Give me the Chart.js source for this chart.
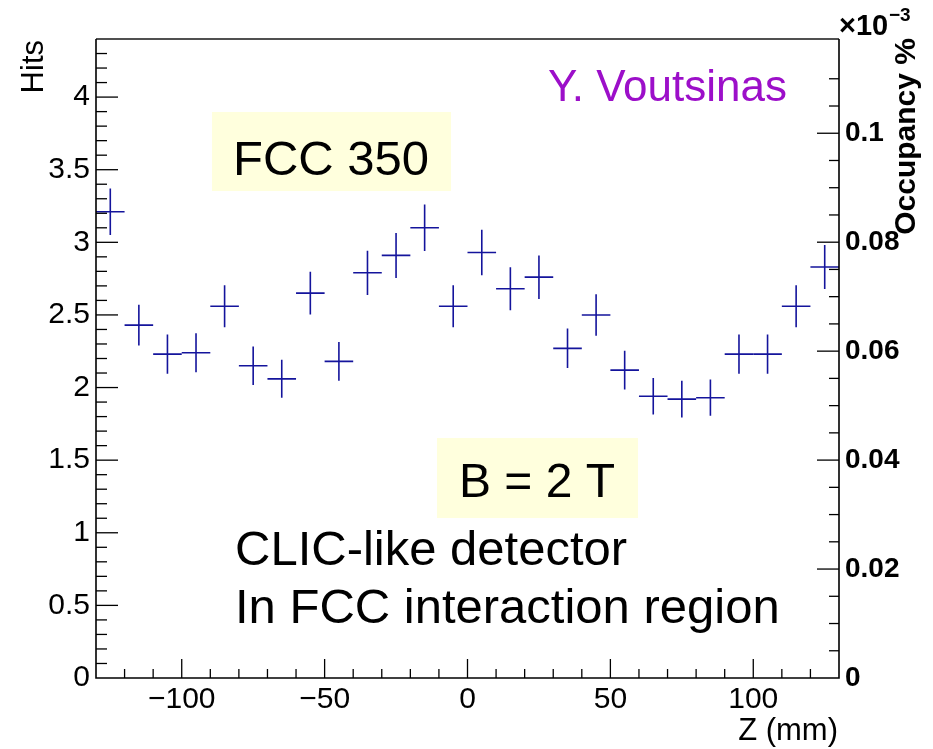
<!DOCTYPE html>
<html>
<head>
<meta charset="utf-8">
<script src="https://cdn.jsdelivr.net/npm/chart.js@4/dist/chart.umd.min.js"></script>
<style>
  html, body { margin: 0; padding: 0; background: #fff; }
  #wrap { width: 933px; height: 749px; }
</style>
</head>
<body>
<div id="wrap"><canvas id="hits" width="933" height="749"></canvas></div>
<script>
// bin centres along Z (mm), bins are 10 mm wide
const zBins = [-125, -115, -105, -95, -85, -75, -65, -55, -45, -35, -25, -15, -5,
               5, 15, 25, 35, 45, 55, 65, 75, 85, 95, 105, 115, 125];
const hits = [3.21, 2.43, 2.23, 2.24, 2.56, 2.15, 2.06, 2.65, 2.18, 2.79, 2.91, 3.10, 2.56,
              2.93, 2.68, 2.76, 2.27, 2.50, 2.12, 1.94, 1.92, 1.93, 2.23, 2.23, 2.56, 2.83];
const hitErr = [0.16, 0.14, 0.135, 0.134, 0.144, 0.133, 0.131, 0.147, 0.134, 0.152, 0.155, 0.16, 0.144,
                0.156, 0.148, 0.15, 0.136, 0.143, 0.133, 0.126, 0.126, 0.125, 0.135, 0.135, 0.144, 0.152];
const binHalfWidth = 5;

// axes
const zRange = [-130, 130];
const hitsRange = [0, 4.4];
const occRange = [0, 0.1173]; // right axis, x10^-3 %
const zLabels = [-100, -50, 0, 50, 100];
const hitsLabels = [0, 0.5, 1, 1.5, 2, 2.5, 3, 3.5, 4];
const occLabels = [0, 0.02, 0.04, 0.06, 0.08, 0.1];

const FONT = '"Liberation Sans", Arial, Helvetica, sans-serif';
const CROSS = '#14149c';

function near(a, b) { return Math.abs(a - b) < 1e-6; }
function hasLabel(list, v) { return list.some(l => near(l, v)); }
function fmt(v) {
  let s = String(Number(v.toFixed(3)));
  return s.replace('-', '\u2212');
}

// error crosses
const crossPlugin = {
  id: 'crosses',
  afterDatasetsDraw(chart) {
    const ctx = chart.ctx;
    const xs = chart.scales.x, ys = chart.scales.y;
    ctx.save();
    ctx.strokeStyle = CROSS;
    ctx.lineWidth = 1.6;
    for (let i = 0; i < zBins.length; i++) {
      const x0 = xs.getPixelForValue(zBins[i] - binHalfWidth);
      const x1 = xs.getPixelForValue(zBins[i] + binHalfWidth);
      const xc = xs.getPixelForValue(zBins[i]);
      const yc = ys.getPixelForValue(hits[i]);
      const y0 = ys.getPixelForValue(hits[i] - hitErr[i]);
      const y1 = ys.getPixelForValue(hits[i] + hitErr[i]);
      ctx.beginPath();
      ctx.moveTo(x0, yc); ctx.lineTo(x1, yc);
      ctx.moveTo(xc, y0); ctx.lineTo(xc, y1);
      ctx.stroke();
    }
    ctx.restore();
  }
};

// frame, inward ticks, annotations
const framePlugin = {
  id: 'frame',
  afterDraw(chart) {
    const ctx = chart.ctx;
    const a = chart.chartArea;
    ctx.save();

    // ticks
    ctx.strokeStyle = '#000';
    ctx.lineWidth = 1.3;
    function ticks(scale, step, labels, major, minor, dir) {
      scale.ticks.forEach(t => {
        const v = t.value;
        if (!near(v / step, Math.round(v / step))) return;
        if (near(v, scale.min) || near(v, scale.max)) return;
        const len = hasLabel(labels, v) ? major : minor;
        const p = scale.getPixelForValue(v);
        ctx.beginPath();
        if (dir === 'up') { ctx.moveTo(p, a.bottom); ctx.lineTo(p, a.bottom - len); }
        if (dir === 'right') { ctx.moveTo(a.left, p); ctx.lineTo(a.left + len, p); }
        if (dir === 'left') { ctx.moveTo(a.right, p); ctx.lineTo(a.right - len, p); }
        ctx.stroke();
      });
    }
    ticks(chart.scales.x, 10, zLabels, 19, 9, 'up');
    ticks(chart.scales.y, 0.1, hitsLabels, 22, 11, 'right');
    ticks(chart.scales.y2, 0.005, occLabels, 22, 10, 'left');

    // frame
    ctx.strokeStyle = '#505050';
    ctx.lineWidth = 2;
    ctx.beginPath(); ctx.moveTo(a.left, a.top); ctx.lineTo(a.right, a.top); ctx.stroke();
    ctx.strokeStyle = '#000';
    ctx.lineWidth = 1.6;
    ctx.beginPath();
    ctx.moveTo(a.left, a.top); ctx.lineTo(a.left, a.bottom); ctx.lineTo(a.right, a.bottom); ctx.lineTo(a.right, a.top);
    ctx.stroke();

    // axis titles
    ctx.fillStyle = '#000';
    ctx.textBaseline = 'alphabetic';
    ctx.save();
    ctx.translate(43, 40);
    ctx.rotate(-Math.PI / 2);
    ctx.textAlign = 'right';
    ctx.font = '31px ' + FONT;
    ctx.fillText('Hits', 0, 0);
    ctx.restore();

    ctx.save();
    ctx.translate(915, 38);
    ctx.rotate(-Math.PI / 2);
    ctx.textAlign = 'right';
    ctx.font = 'bold 30px ' + FONT;
    ctx.fillText('Occupancy %', 0, 0);
    ctx.restore();

    ctx.textAlign = 'left';
    ctx.font = 'bold 29px ' + FONT;
    ctx.fillText('\u00d710', 839, 35);
    ctx.font = 'bold 19px ' + FONT;
    ctx.fillText('\u22123', 889, 21);

    ctx.textAlign = 'right';
    ctx.font = '31px ' + FONT;
    ctx.fillText('Z (mm)', 838, 740);

    // annotations
    ctx.textAlign = 'left';
    ctx.fillStyle = '#9c0fc9';
    ctx.font = '44px ' + FONT;
    ctx.fillText('Y. Voutsinas', 548, 101);

    ctx.fillStyle = '#ffffdd';
    ctx.fillRect(212, 112, 239, 79);
    ctx.fillRect(437, 438, 201, 80);
    ctx.fillStyle = '#000';
    ctx.font = '49px ' + FONT;
    ctx.fillText('FCC 350', 233, 175);
    ctx.font = '48px ' + FONT;
    ctx.fillText('B = 2 T', 459, 497);
    ctx.font = '49px ' + FONT;
    ctx.fillText('CLIC-like detector', 235, 565);
    ctx.fillText('In FCC interaction region', 235, 623);

    ctx.restore();
  }
};

new Chart(document.getElementById('hits'), {
  type: 'scatter',
  data: {
    datasets: [{
      label: 'Hits',
      data: zBins.map((z, i) => ({ x: z, y: hits[i] })),
      pointRadius: 0,
      showLine: false
    }]
  },
  options: {
    responsive: false,
    animation: false,
    devicePixelRatio: 1,
    layout: { padding: { top: 39, left: 0, right: 0, bottom: 0 } },
    plugins: { legend: { display: false }, tooltip: { enabled: false } },
    scales: {
      x: {
        type: 'linear', position: 'bottom',
        min: zRange[0], max: zRange[1],
        grid: { display: false, drawTicks: false },
        border: { display: false },
        ticks: {
          stepSize: 10, autoSkip: false, maxRotation: 0, padding: 4,
          color: '#000', font: { size: 30, family: FONT },
          callback: v => hasLabel(zLabels, v) ? fmt(v) : ''
        },
        afterFit: s => { s.height = 71; }
      },
      y: {
        type: 'linear', position: 'left',
        min: hitsRange[0], max: hitsRange[1],
        grid: { display: false, drawTicks: false },
        border: { display: false },
        ticks: {
          stepSize: 0.1, autoSkip: false, padding: 6,
          color: '#000', font: { size: 30, family: FONT },
          callback: v => hasLabel(hitsLabels, v) ? fmt(v) : ''
        },
        afterFit: s => { s.width = 96; }
      },
      y2: {
        type: 'linear', position: 'right',
        min: occRange[0], max: occRange[1],
        grid: { display: false, drawTicks: false },
        border: { display: false },
        ticks: {
          stepSize: 0.005, autoSkip: false, padding: 6,
          color: '#000', font: { size: 28, family: FONT, weight: 'bold' },
          callback: v => hasLabel(occLabels, v) ? fmt(v) : ''
        },
        afterFit: s => { s.width = 94; }
      }
    }
  },
  plugins: [crossPlugin, framePlugin]
});
</script>
</body>
</html>
